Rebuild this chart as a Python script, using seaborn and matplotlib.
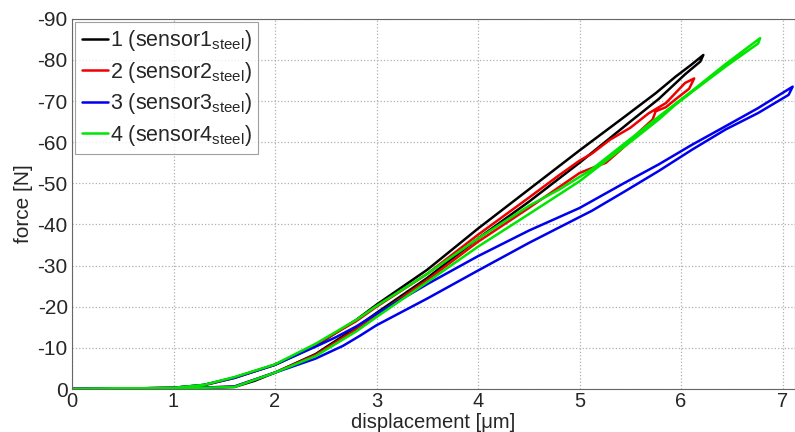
import pandas as pd
import seaborn as sns
import matplotlib.pyplot as plt

# Dados (ramo superior até o pico, depois ramo inferior de volta)
s1_x = [0, 0.5, 1.0, 1.3, 1.6, 2.0, 2.4, 2.8, 3.0, 3.5, 4.0, 4.5, 5.0, 5.45, 5.75, 5.95, 6.1, 6.22,
        6.19, 6.04, 5.78, 5.5, 5.0, 4.5, 4.0, 3.5, 3.0, 2.8, 2.4, 2.0, 1.8, 1.6, 1.0, 0.5, 0]
s1_y = [0, -0.1, -0.3, -1.0, -2.8, -5.9, -10.5, -16.8, -20.5, -29, -39, -48.5, -58, -66.3, -71.9, -76, -78.8, -81.2,
        -79.6, -76.5, -70.5, -65.0, -55.0, -45.5, -36.6, -27, -18.5, -15.0, -8.5, -4.0, -2.0, -0.5, -0.1, 0, 0]

s2_x = [0, 0.5, 1.0, 1.3, 1.6, 2.0, 2.4, 2.8, 3.0, 3.5, 4.0, 4.5, 4.8, 5.0, 5.12, 5.3, 5.5, 5.68, 5.85, 6.04, 6.13,
        6.08, 5.95, 5.85, 5.75, 5.72, 5.6, 5.52, 5.4, 5.26, 5.1, 5.0, 4.5, 4.0, 3.5, 3.0, 2.8, 2.4, 2.0, 1.6, 1.0, 0]
s2_y = [0, -0.1, -0.3, -0.9, -2.7, -5.9, -10.8, -16.5, -20, -28, -37.5, -46.5, -52, -55.5, -57.2, -60.6, -63.5, -67, -69.5, -74.4, -75.5,
        -73, -70.5, -68.5, -67.5, -65.5, -62.8, -60.8, -58, -55.0, -53.5, -52.5, -44, -35.8, -26.5, -18, -14.5, -8.3, -4.0, -0.6, -0.1, 0]

s3_x = [0, 0.5, 1.0, 1.3, 1.6, 2.0, 2.4, 2.6, 2.8, 3.0, 3.5, 4.0, 4.5, 5.0, 5.45, 5.78, 6.11, 6.44, 6.76, 7.1,
        7.06, 6.76, 6.44, 6.11, 5.78, 5.45, 5.12, 5.0, 4.5, 4.0, 3.5, 3.0, 2.84, 2.67, 2.4, 2.0, 1.6, 1.0, 0]
s3_y = [0, -0.1, -0.3, -1.0, -2.7, -5.9, -10.3, -12.6, -15.2, -18.3, -25.5, -32.3, -38.5, -44, -50.2, -54.6, -59.4, -63.9, -68.3, -73.5,
        -71.5, -67.1, -63.1, -58.2, -53, -48.1, -43.3, -41.8, -35.5, -28.8, -22, -15.5, -13.0, -10.5, -7.4, -4, -0.6, -0.1, 0]

s4_x = [0, 0.5, 1.0, 1.3, 1.6, 2.0, 2.4, 2.8, 3.0, 3.5, 4.0, 4.5, 4.8, 5.12, 5.45, 5.78, 6.11, 6.44, 6.78,
        6.76, 6.44, 6.14, 5.94, 5.78, 5.55, 5.0, 4.5, 4.0, 3.5, 3.0, 2.8, 2.4, 2.0, 1.6, 1.0, 0]
s4_y = [0, -0.1, -0.3, -1.0, -2.9, -6.0, -11.0, -16.8, -20.2, -28, -36.6, -44.5, -48.5, -53.4, -59.8, -66.2, -72.5, -79, -85.3,
        -84, -78.4, -72.8, -69.0, -65.5, -61.0, -50.5, -42.5, -34.6, -26, -17.5, -14.0, -8, -4, -0.5, -0.1, 0]

labels = [r"1 (sensor1$_{steel}$)", r"2 (sensor2$_{steel}$)",
          r"3 (sensor3$_{steel}$)", r"4 (sensor4$_{steel}$)"]
cores = ["#000000", "#ee0000", "#0000ee", "#00e600"]

# Montar tabela longa
partes = []
for lab, xs, ys in zip(labels, [s1_x, s2_x, s3_x, s4_x], [s1_y, s2_y, s3_y, s4_y]):
    partes.append(pd.DataFrame({"sensor": lab, "x": xs, "y": ys}))
df = pd.concat(partes, ignore_index=True)

sns.set_style("white")
plt.rcParams["font.family"] = ["Liberation Sans", "DejaVu Sans"]
plt.rcParams["mathtext.default"] = "regular"
plt.rcParams["axes.unicode_minus"] = False

fig = plt.figure(figsize=(7.95, 4.32), dpi=100)
ax = fig.add_axes([0.0906, 0.0995, 0.909, 0.857])

sns.lineplot(data=df, x="x", y="y", hue="sensor", palette=cores, sort=False,
             estimator=None, linewidth=1.8, ax=ax)

ax.set_xlim(0, 7.12)
ax.set_ylim(0, -90)
ax.set_xticks(range(0, 8))
ax.set_yticks(range(0, -100, -10))
ax.grid(True, linestyle=":", color="#b0b0b0", linewidth=0.9)
ax.tick_params(direction="in", labelsize=15, length=4, color="#555555", pad=3)
ax.tick_params(axis="x", labelsize=14.5, pad=2.5)
for s in ax.spines.values():
    s.set_color("#666666")
    s.set_linewidth(0.8)

ax.set_xlabel("displacement [μm]", fontsize=14.5, labelpad=1)
ax.set_ylabel("force [N]", fontsize=15, labelpad=3)

leg = ax.legend(loc="upper left", fontsize=15.5, handlelength=1.2, handletextpad=0.1,
                borderpad=0.3, labelspacing=0.3, borderaxespad=0.15, frameon=True, fancybox=False)
leg.get_frame().set_edgecolor("#888888")
leg.get_frame().set_linewidth(0.8)

plt.savefig("out.png", dpi=100)
